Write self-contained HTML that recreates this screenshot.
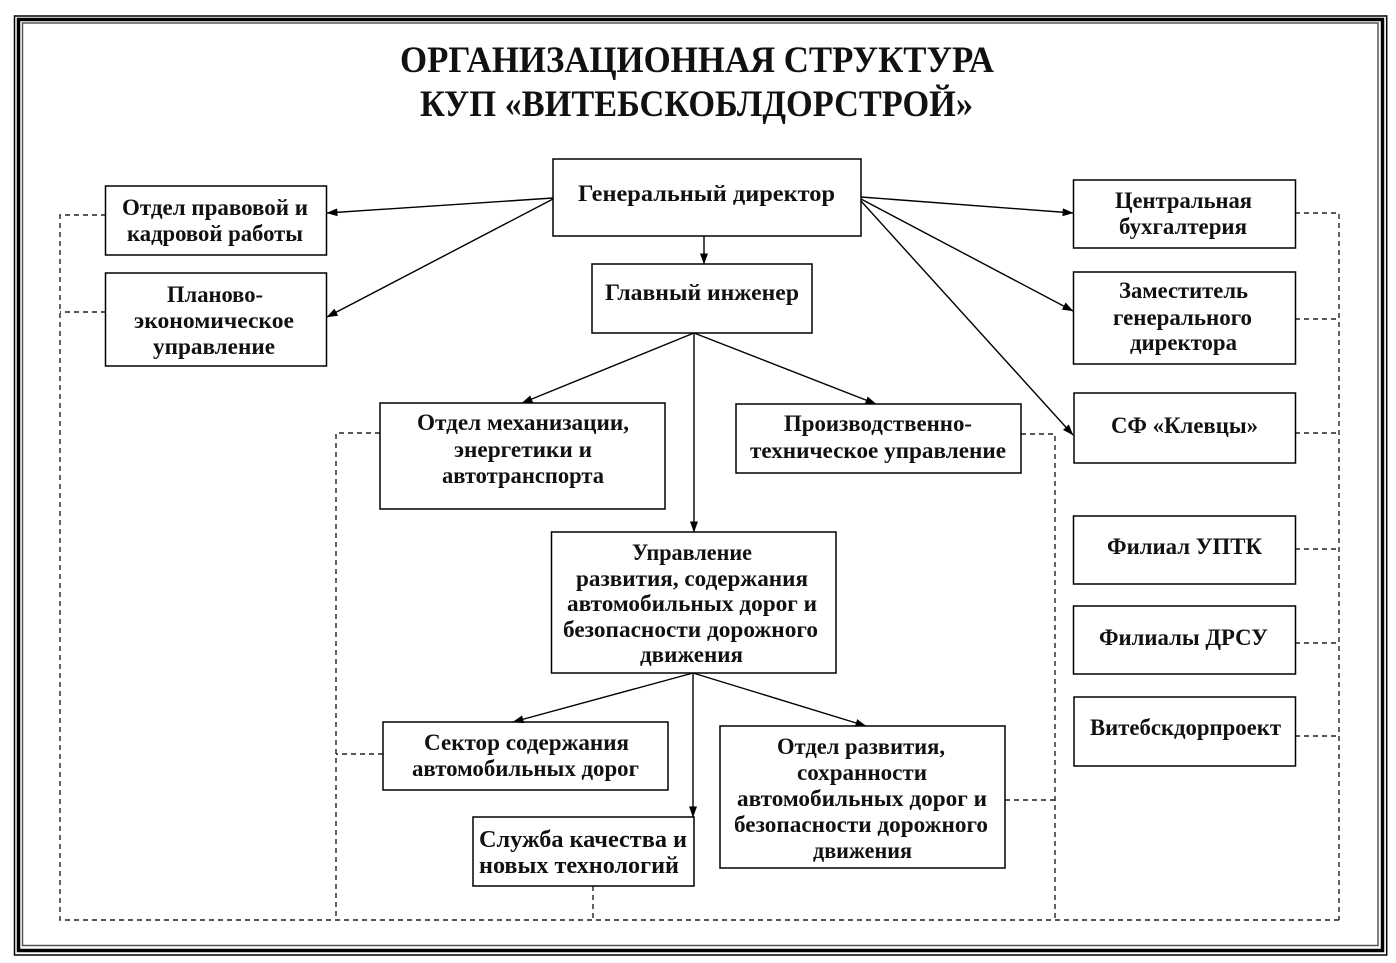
<!DOCTYPE html>
<html><head><meta charset="utf-8">
<style>
html,body{margin:0;padding:0;background:#fff;}
svg{display:block;}
text{font-family:"Liberation Serif","DejaVu Serif",serif;font-weight:bold;fill:#111;}
</style></head>
<body>
<svg width="1396" height="963" viewBox="0 0 1396 963" xmlns="http://www.w3.org/2000/svg">
<defs>
<marker id="a" markerWidth="11" markerHeight="9" refX="10.5" refY="4.5" orient="auto" markerUnits="userSpaceOnUse">
<path d="M0,0.5 L11,4.5 L0,8.5 z" fill="#000"/>
</marker>
</defs>
<rect x="0" y="0" width="1396" height="963" fill="#fff"/>
<!-- frame -->
<rect x="14.5" y="16" width="1372.2" height="939" fill="none" stroke="#000" stroke-width="1.5"/>
<rect x="18.5" y="19.5" width="1364" height="931" fill="none" stroke="#000" stroke-width="3.5"/>
<rect x="22.5" y="23" width="1355.5" height="922.5" fill="none" stroke="#555" stroke-width="1.5"/>

<!-- title -->
<text x="400" y="72" font-size="37" textLength="594" lengthAdjust="spacingAndGlyphs">ОРГАНИЗАЦИОННАЯ СТРУКТУРА</text>
<text x="420" y="116" font-size="37" textLength="553" lengthAdjust="spacingAndGlyphs">КУП «ВИТЕБСКОБЛДОРСТРОЙ»</text>

<!-- dashed connectors -->
<g fill="none" stroke="#222" stroke-width="1.4" stroke-dasharray="5 4">
<path d="M106,215 H60 V920 H1339"/>
<path d="M106,312 H60"/>
<path d="M380,433 H336 V920"/>
<path d="M383,754 H336"/>
<path d="M1021,434 H1055 V920"/>
<path d="M1005,800 H1055"/>
<path d="M593,886 V920"/>
<path d="M1295,213 H1339 V920"/>
<path d="M1295,319 H1339"/>
<path d="M1295,433 H1339"/>
<path d="M1295,549 H1339"/>
<path d="M1295,643 H1339"/>
<path d="M1295,736 H1339"/>
</g>

<!-- boxes -->
<g fill="#fff" stroke="#000" stroke-width="1.5">
<rect x="553" y="159" width="308" height="77"/>
<rect x="592" y="264" width="220" height="69"/>
<rect x="105.5" y="186" width="221" height="69"/>
<rect x="105.5" y="273" width="221" height="93"/>
<rect x="1073.5" y="180" width="222" height="68"/>
<rect x="1073.5" y="272" width="222" height="92"/>
<rect x="1074" y="393" width="221.5" height="70"/>
<rect x="1073.5" y="516" width="222" height="68"/>
<rect x="1073.5" y="606" width="222" height="68"/>
<rect x="1074" y="697" width="221.5" height="69"/>
<rect x="380" y="403" width="285" height="106"/>
<rect x="736" y="404" width="285" height="69"/>
<rect x="551.5" y="532" width="284.5" height="141"/>
<rect x="383" y="722" width="285" height="68"/>
<rect x="720" y="726" width="285" height="142"/>
<rect x="473" y="817" width="221" height="69"/>
</g>

<!-- arrows -->
<g stroke="#000" stroke-width="1.4" fill="none" marker-end="url(#a)">
<line x1="553" y1="198" x2="327" y2="213"/>
<line x1="553" y1="199" x2="327" y2="317"/>
<line x1="861" y1="197" x2="1073" y2="213"/>
<line x1="861" y1="199" x2="1073" y2="311"/>
<line x1="861" y1="201" x2="1073" y2="435"/>
<line x1="704" y1="236" x2="704" y2="264"/>
<line x1="694" y1="333" x2="522" y2="403"/>
<line x1="694" y1="333" x2="876" y2="404"/>
<line x1="694" y1="333" x2="694" y2="532"/>
<line x1="693" y1="673" x2="513" y2="722"/>
<line x1="693" y1="673" x2="866" y2="726"/>
<line x1="693" y1="673" x2="693" y2="817"/>
</g>

<!-- labels -->
<g font-size="23">
<text x="578" y="201" textLength="257" lengthAdjust="spacingAndGlyphs">Генеральный директор</text>
<text x="605" y="300" textLength="194" lengthAdjust="spacingAndGlyphs">Главный инженер</text>

<text x="122" y="215" textLength="186" lengthAdjust="spacingAndGlyphs">Отдел правовой и</text>
<text x="127" y="241" textLength="176" lengthAdjust="spacingAndGlyphs">кадровой работы</text>

<text x="167" y="302" textLength="96" lengthAdjust="spacingAndGlyphs">Планово-</text>
<text x="134" y="328" textLength="160" lengthAdjust="spacingAndGlyphs">экономическое</text>
<text x="153" y="354" textLength="122" lengthAdjust="spacingAndGlyphs">управление</text>

<text x="1115" y="208" textLength="137" lengthAdjust="spacingAndGlyphs">Центральная</text>
<text x="1119" y="234" textLength="128" lengthAdjust="spacingAndGlyphs">бухгалтерия</text>

<text x="1119" y="298" textLength="129" lengthAdjust="spacingAndGlyphs">Заместитель</text>
<text x="1113" y="325" textLength="139" lengthAdjust="spacingAndGlyphs">генерального</text>
<text x="1130" y="350" textLength="107" lengthAdjust="spacingAndGlyphs">директора</text>

<text x="1111" y="433" textLength="147" lengthAdjust="spacingAndGlyphs">СФ «Клевцы»</text>
<text x="1107" y="554" textLength="155" lengthAdjust="spacingAndGlyphs">Филиал УПТК</text>
<text x="1099" y="645" textLength="169" lengthAdjust="spacingAndGlyphs">Филиалы ДРСУ</text>
<text x="1090" y="735" textLength="191" lengthAdjust="spacingAndGlyphs">Витебскдорпроект</text>

<text x="417" y="430" textLength="212" lengthAdjust="spacingAndGlyphs">Отдел механизации,</text>
<text x="454" y="457" textLength="138" lengthAdjust="spacingAndGlyphs">энергетики и</text>
<text x="442" y="483" textLength="162" lengthAdjust="spacingAndGlyphs">автотранспорта</text>

<text x="784" y="431" textLength="188" lengthAdjust="spacingAndGlyphs">Производственно-</text>
<text x="750" y="458" textLength="256" lengthAdjust="spacingAndGlyphs">техническое управление</text>

<text x="632" y="560" textLength="120" lengthAdjust="spacingAndGlyphs">Управление</text>
<text x="576" y="586" textLength="232" lengthAdjust="spacingAndGlyphs">развития, содержания</text>
<text x="567" y="611" textLength="250" lengthAdjust="spacingAndGlyphs">автомобильных дорог и</text>
<text x="563" y="637" textLength="255" lengthAdjust="spacingAndGlyphs">безопасности дорожного</text>
<text x="640" y="662" textLength="103" lengthAdjust="spacingAndGlyphs">движения</text>

<text x="424" y="750" textLength="205" lengthAdjust="spacingAndGlyphs">Сектор содержания</text>
<text x="412" y="776" textLength="227" lengthAdjust="spacingAndGlyphs">автомобильных дорог</text>

<text x="777" y="754" textLength="168" lengthAdjust="spacingAndGlyphs">Отдел развития,</text>
<text x="797" y="780" textLength="130" lengthAdjust="spacingAndGlyphs">сохранности</text>
<text x="737" y="806" textLength="250" lengthAdjust="spacingAndGlyphs">автомобильных дорог и</text>
<text x="734" y="832" textLength="254" lengthAdjust="spacingAndGlyphs">безопасности дорожного</text>
<text x="813" y="858" textLength="99" lengthAdjust="spacingAndGlyphs">движения</text>
</g>
<g font-size="24">
<text x="479" y="847" textLength="208" lengthAdjust="spacingAndGlyphs">Служба качества и</text>
<text x="479" y="873" textLength="200" lengthAdjust="spacingAndGlyphs">новых технологий</text>
</g>
</svg>
</body></html>
